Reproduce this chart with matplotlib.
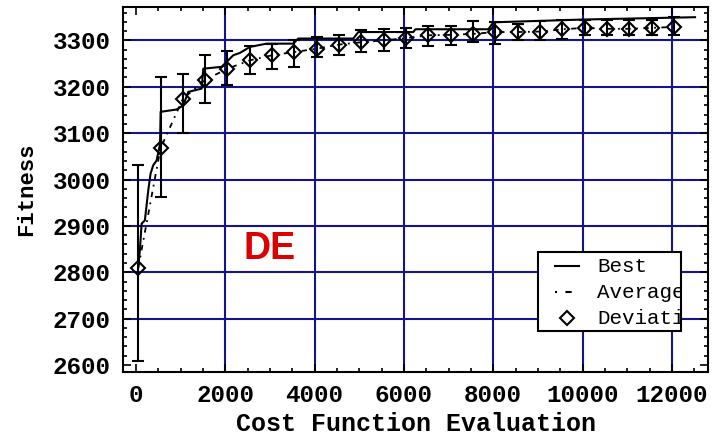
import matplotlib
matplotlib.use("Agg")
import matplotlib.pyplot as plt
from matplotlib.patches import Rectangle
from matplotlib.lines import Line2D
from matplotlib.transforms import Bbox, TransformedBbox
from matplotlib.ticker import MultipleLocator

# Best fitness found so far
best_x = [50, 90, 127, 200, 276, 328, 388, 463, 540, 553, 911, 1060, 1171, 1471,
          1508, 1919, 1993, 2180, 2329, 2553, 2927, 3523, 3635, 4867, 4979,
          6211, 6260, 7891, 8003, 10020, 12520]
best_y = [2810, 2850, 2905, 2912, 2977, 3013, 3031, 3041, 3077, 3146, 3151, 3160,
          3189, 3196, 3239, 3243, 3250, 3268, 3273, 3286, 3293, 3293, 3304, 3304,
          3318, 3318, 3324, 3324, 3339, 3345, 3350]

# Population average with deviation range, sampled every 500 evaluations
dev_x = [50, 550, 1050, 1550, 2050, 2550, 3050, 3550, 4050, 4550, 5050, 5550,
         6050, 6550, 7050, 7550, 8050, 8550, 9050, 9550, 10050, 10550, 11050,
         11550, 12050]
avg_y = [2809, 3067, 3174, 3215, 3239, 3257, 3268, 3275, 3282, 3291, 3296, 3300,
         3305, 3311, 3312, 3314, 3318, 3318, 3319, 3324, 3327, 3325, 3325, 3327,
         3329]
dev_low = [2608, 2962, 3100, 3165, 3203, 3228, 3239, 3243, 3264, 3268, 3275, 3278,
           3283, 3288, 3291, 3296, 3293, 3300, 3300, 3304, 3312, 3311, 3312, 3312,
           3311]
dev_high = [3032, 3220, 3228, 3268, 3278, 3287, 3293, 3300, 3307, 3312, 3322, 3324,
            3327, 3331, 3331, 3341, 3339, 3336, 3341, 3343, 3345, 3343, 3343, 3343,
            3350]

x_ticks = [0, 2000, 4000, 6000, 8000, 10000, 12000]
y_ticks = [2600, 2700, 2800, 2900, 3000, 3100, 3200, 3300]
x_grid = [2000, 4000, 6000, 8000, 10000, 12000]
y_grid = [2700, 2800, 2900, 3000, 3100, 3200, 3300]
legend_labels = ["Best", "Average", "Deviation"]

mono = "Liberation Mono"
grid_color = "#14148c"

fig = plt.figure(figsize=(7.15, 4.38), dpi=100)
ax = fig.add_axes([123 / 715, 1 - 372 / 438, (708 - 123) / 715, (372 - 7) / 438])

ax.set_xlim(-290, 12810)
ax.set_ylim(2585, 3372)

for gx in x_grid:
    ax.axvline(gx, color=grid_color, lw=1.5, zorder=0.5)
for gy in y_grid:
    ax.axhline(gy, color=grid_color, lw=1.5, zorder=0.5)

ax.plot(best_x, best_y, color="black", lw=1.5, zorder=3)
ax.plot(dev_x, avg_y, color="black", lw=1.3, linestyle=(0, (3, 3, 1, 3)), zorder=3)

lower = [a - l for a, l in zip(avg_y, dev_low)]
upper = [h - a for a, h in zip(avg_y, dev_high)]
ax.errorbar(dev_x, avg_y, yerr=[lower, upper], fmt="D", ms=7.5, mfc="none",
            mec="black", mew=1.5, ecolor="black", elinewidth=1.5, capsize=4,
            capthick=1.5, zorder=4)

ax.set_xticks(x_ticks)
ax.set_yticks(y_ticks)
ax.xaxis.set_minor_locator(MultipleLocator(500))
ax.yaxis.set_minor_locator(MultipleLocator(20))
ax.tick_params(which="both", direction="in", top=True, right=True, width=1.2,
               colors="black")
ax.tick_params(which="major", length=6)
ax.tick_params(which="minor", length=3)
ax.tick_params(axis="x", which="major", pad=9)
ax.tick_params(axis="y", which="major", pad=9)
for lab in ax.get_xticklabels() + ax.get_yticklabels():
    lab.set_fontfamily(mono)
    lab.set_fontweight("bold")
    lab.set_fontsize(17.5)
for sp in ax.spines.values():
    sp.set_linewidth(1.5)
    sp.set_color("black")

ax.set_xlabel("Cost Function Evaluation", fontfamily=mono, fontweight="bold",
              fontsize=18, labelpad=3)
ax.set_ylabel("Fitness", fontfamily=mono, fontweight="bold", fontsize=16,
              labelpad=11)

ax.text(3000, 2851, "DE", color="#dd0000", fontfamily="Liberation Sans",
        fontweight="bold", fontsize=27, ha="center", va="center", zorder=5)

# Legend box with text cut off at its right edge
lx0, lx1, ly0, ly1 = 0.709, 0.954, 0.112, 0.329
ax.add_patch(Rectangle((lx0, ly0), lx1 - lx0, ly1 - ly0, transform=ax.transAxes,
                       facecolor="white", edgecolor="black", lw=1.5, zorder=6))
clip = TransformedBbox(Bbox([[lx0, ly0], [lx1, ly1]]), ax.transAxes)
rows = [0.290, 0.219, 0.147]
samples = [dict(ls="-", marker=None), dict(ls=(0, (1, 4, 3, 4)), marker=None),
           dict(ls="none", marker="D")]
for yy, lab, st in zip(rows, legend_labels, samples):
    if st["marker"] is None:
        ax.add_line(Line2D([0.738, 0.779], [yy, yy], transform=ax.transAxes,
                           color="black", lw=1.5, linestyle=st["ls"], zorder=7))
    else:
        ax.add_line(Line2D([0.7585], [yy], transform=ax.transAxes, marker="D",
                           ms=7, mfc="none", mec="black", mew=1.5, ls="none",
                           zorder=7))
    t = ax.text(0.811, yy, lab, transform=ax.transAxes, fontfamily=mono,
                fontsize=15, va="center", ha="left", zorder=7)
    t.set_clip_box(clip)
    t.set_clip_on(True)

fig.savefig("out.png", dpi=100)
